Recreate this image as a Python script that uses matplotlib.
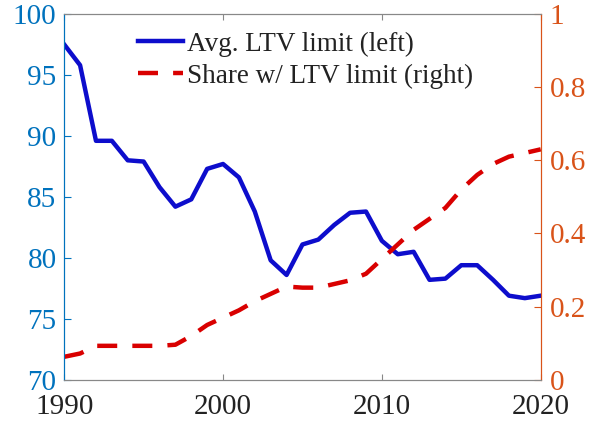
import matplotlib
matplotlib.use("Agg")
import matplotlib.pyplot as plt

years = list(range(1990, 2021))
avg_ltv = [97.5, 95.8, 89.6, 89.6, 88.0, 87.9, 85.8, 84.2, 84.8, 87.3, 87.7,
           86.6, 83.8, 79.8, 78.6, 81.1, 81.5, 82.7, 83.7, 83.8, 81.4,
           80.3, 80.5, 78.2, 78.3, 79.4, 79.4, 78.2, 76.9, 76.7, 76.9]
share_ltv = [0.063, 0.072, 0.093, 0.093, 0.093, 0.093, 0.093, 0.096, 0.12, 0.15, 0.17,
             0.19, 0.215, 0.235, 0.255, 0.252, 0.252, 0.262, 0.272, 0.29, 0.33,
             0.37, 0.41, 0.44, 0.47, 0.52, 0.56, 0.59, 0.61, 0.62, 0.63]
left_ticks = [70, 75, 80, 85, 90, 95, 100]
right_ticks = [0, 0.2, 0.4, 0.6, 0.8, 1]
right_labels = ["0", "0.2", "0.4", "0.6", "0.8", "1"]
x_ticks = [1990, 2000, 2010, 2020]

plt.rcParams['font.family'] = ['Liberation Serif', 'DejaVu Serif']
left_col = (0.0, 0.447, 0.741)
right_col = (0.85, 0.325, 0.098)
blue = (0.05, 0.05, 0.8)
red = (0.85, 0.0, 0.0)

fig = plt.figure(figsize=(5.89, 4.23), dpi=100)
ax = fig.add_axes([0.109, 0.102, 0.809, 0.865])
ax2 = ax.twinx()

l1, = ax.plot(years, avg_ltv, color=blue, lw=3.2, label='Avg. LTV limit (left)')
l2, = ax2.plot(years, share_ltv, color=red, lw=3.2, dashes=(4.5, 3.4), label='Share w/ LTV limit (right)')

ax.set_xlim(1990, 2020)
ax.set_ylim(70, 100)
ax2.set_ylim(0, 1)
ax.set_xticks(x_ticks)
ax.set_yticks(left_ticks)
ax2.set_yticks(right_ticks)
ax2.set_yticklabels(right_labels)

ax.tick_params(axis='x', direction='in', labelsize=21, colors='#888888', labelcolor='#222222', top=True, length=4, pad=10)
ax.tick_params(axis='y', direction='in', labelsize=21, colors=left_col, labelcolor=left_col, length=5, pad=5.5)
ax2.tick_params(axis='y', direction='in', labelsize=21, colors=right_col, labelcolor=right_col, length=5, pad=6.5)

for a in (ax, ax2):
    a.spines['top'].set_color('#888888')
    a.spines['bottom'].set_color('#888888')
    a.spines['left'].set_color(left_col)
    a.spines['right'].set_color(right_col)

leg = ax.legend(handles=[l1, l2], loc='upper left', bbox_to_anchor=(0.155, 0.952),
                frameon=False, fontsize=19.5, handlelength=1.67, handletextpad=0.15,
                labelspacing=0.25, borderaxespad=0.0, borderpad=0.0)
for t in leg.get_texts():
    t.set_color('#222222')

fig.savefig('out.png', dpi=100)
